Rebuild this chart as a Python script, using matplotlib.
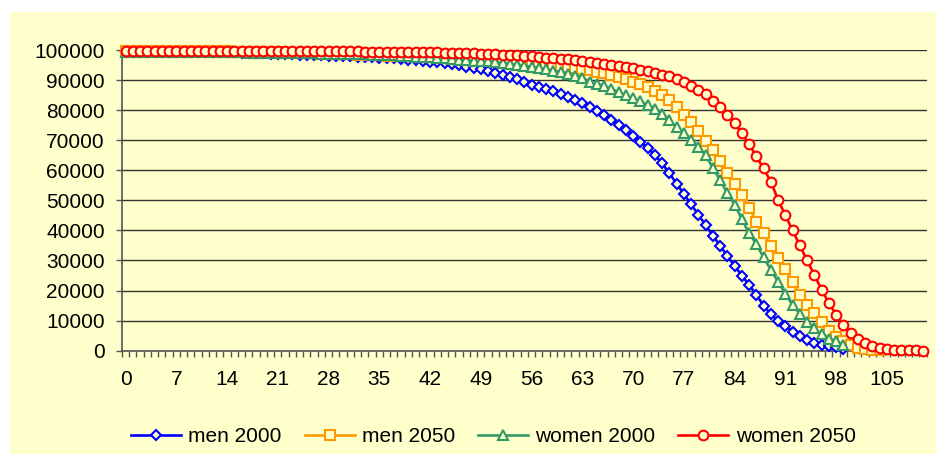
import matplotlib
matplotlib.use('Agg')
import matplotlib.pyplot as plt
import numpy as np
from matplotlib.patches import Rectangle

# survival curves (persons alive out of 100000)
men_2000 = [99500, 99450, 99420, 99400, 99380, 99370, 99360, 99350, 99340, 99330,
            99320, 99310, 99290, 99270, 99240, 99200, 99140, 99060, 98970, 98880,
            98790, 98700, 98610, 98530, 98450, 98370, 98290, 98210, 98130, 98050,
            97970, 97880, 97790, 97690, 97580, 97460, 97330, 97180, 97020, 96840,
            96640, 96420, 96170, 95890, 95580, 95240, 94870, 94460, 94010, 93520,
            92980, 92390, 91740, 91030, 90260, 89420, 88400, 87700, 87000, 86200,
            85300, 84400, 83400, 82300, 81100, 79800, 78300, 76700, 75000, 73300,
            71500, 69500, 67500, 65100, 62300, 59000, 55600, 52100, 48700, 45200,
            41800, 38300, 34900, 31500, 28200, 25000, 21900, 18600, 15000, 12200,
            9900, 8200, 6300, 4800, 3600, 2700, 2000, 1500, 1100, 500]
men_2050 = [99700, 99680, 99670, 99660, 99650, 99640, 99630, 99620, 99610, 99600,
            99590, 99580, 99570, 99550, 99530, 99500, 99460, 99410, 99350, 99290,
            99230, 99170, 99110, 99050, 98990, 98930, 98870, 98810, 98750, 98690,
            98630, 98560, 98490, 98420, 98340, 98260, 98170, 98080, 97980, 97880,
            97770, 97650, 97530, 97400, 97260, 97120, 96970, 96810, 96650, 96620,
            96600, 96450, 96300, 96150, 96000, 95800, 95600, 95400, 95200, 95000,
            94750, 94450, 94100, 93700, 93250, 92750, 92200, 91600, 90950, 90250,
            89450, 88600, 87600, 86400, 85000, 83300, 80900, 78500, 76000, 73000,
            69900, 66700, 63000, 59100, 55500, 51800, 47600, 42900, 39100, 34900,
            30700, 27200, 23000, 18500, 15300, 12500, 9500, 6500, 4700, 3200,
            1800, 1000, 600, 300, 200]
women_2000 = [99400, 99370, 99350, 99340, 99330, 99320, 99310, 99300, 99290, 99280,
              99270, 99260, 99250, 99240, 99220, 99200, 99170, 99140, 99110, 99080,
              99050, 99020, 98990, 98960, 98930, 98900, 98860, 98820, 98780, 98740,
              98690, 98640, 98580, 98520, 98450, 98370, 98280, 98180, 98070, 97950,
              97820, 97680, 97530, 97370, 97200, 97010, 96810, 96600, 96450, 96330,
              96200, 95950, 95680, 95390, 95080, 94750, 94400, 94020, 93600, 93150,
              92650, 92100, 91500, 90850, 89500, 88700, 87900, 87000, 86000, 84900,
              83900, 82900, 81800, 80500, 78800, 76700, 74300, 72300, 70200, 67800,
              65000, 60800, 56700, 52400, 48600, 43800, 39000, 35500, 31000, 26900,
              22900, 19000, 15100, 12300, 9700, 7400, 5400, 4000, 3200, 2000]
women_2050 = [99800, 99790, 99785, 99780, 99775, 99770, 99765, 99760, 99755, 99750,
              99745, 99740, 99735, 99730, 99720, 99710, 99700, 99690, 99680, 99670,
              99660, 99650, 99640, 99630, 99620, 99610, 99600, 99590, 99580, 99570,
              99560, 99540, 99520, 99500, 99480, 99460, 99440, 99410, 99380, 99350,
              99310, 99270, 99230, 99180, 99130, 99070, 99010, 98940, 98870, 98790,
              98700, 98600, 98490, 98370, 98240, 98100, 97900, 97700, 97500, 97300,
              97100, 96850, 96600, 96350, 96050, 95750, 95450, 95100, 94750, 94350,
              93950, 93500, 93000, 92450, 91800, 91300, 90500, 89300, 88000, 86700,
              85300, 83200, 81000, 78500, 75800, 72300, 68700, 64600, 60600, 56200,
              50200, 45000, 40000, 35000, 30000, 25200, 20300, 15900, 12000, 8600,
              6000, 4000, 2700, 1700, 900, 500, 300, 200, 100, 100, 50]

series_names = ['men 2000', 'men 2050', 'women 2000', 'women 2050']
series_colors = ['#0000FF', '#FF9900', '#339966', '#FF0000']
series_markers = ['D', 's', '^', 'o']
marker_sizes = [5.0, 6.5, 6.5, 7.0]
y_ticks = list(range(0, 100001, 10000))
label_step = 7

bg = '#FFFFCC'
fig = plt.figure(figsize=(9.36, 4.54), dpi=100, facecolor='white')
fig.patches.append(Rectangle((10 / 936, 0), 1 - 10 / 936, (454 - 12) / 454,
                             transform=fig.transFigure, facecolor=bg,
                             edgecolor='none', zorder=-10))
ax = fig.add_axes([122 / 936, (454 - 350.7) / 454, 804.7 / 936, 300.7 / 454])
ax.set_zorder(1)
ax.set_facecolor(bg)

all_series = [men_2000, men_2050, women_2000, women_2050]
for vals, name, col, mk, ms in zip(all_series, series_names, series_colors,
                                    series_markers, marker_sizes):
    ages = np.arange(len(vals))
    ax.plot(ages, vals, color=col, linewidth=1.9, marker=mk, markersize=ms,
            markerfacecolor=bg, markeredgecolor=col, markeredgewidth=1.5,
            label=name, clip_on=False, zorder=3)

n_ages = len(women_2050)
ax.set_xlim(-0.5, n_ages - 0.5)
ax.set_ylim(0, 100000)
ax.set_yticks(y_ticks)
ax.set_yticklabels([str(v) for v in y_ticks])
ax.set_xticks(np.arange(0, n_ages, label_step))
ax.set_xticks(np.arange(-0.5, n_ages, 1), minor=True)

ax.grid(axis='y', color='#333333', linewidth=1.0)
ax.set_axisbelow(True)
for s in ['top', 'right']:
    ax.spines[s].set_visible(False)
for s in ['left', 'bottom']:
    ax.spines[s].set_color('#555555')
    ax.spines[s].set_linewidth(1.2)

font = 'Liberation Sans'
ax.tick_params(axis='y', length=4.5, width=1.0, color='#555555', pad=8,
               labelsize=15, labelcolor='black')
ax.tick_params(axis='x', which='major', length=0, pad=14, labelsize=15,
               labelcolor='black')
ax.tick_params(axis='x', which='minor', length=4, width=1.0, color='#555555')
for lab in ax.get_xticklabels() + ax.get_yticklabels():
    lab.set_fontfamily(font)

leg = ax.legend(loc='center', bbox_to_anchor=(0.527, 17 / 454),
                bbox_transform=fig.transFigure, ncol=4, frameon=False,
                prop={'family': font, 'size': 15}, handlelength=2.4,
                handletextpad=0.35, columnspacing=1.1)

fig.savefig('out.png', dpi=100, facecolor='white')
